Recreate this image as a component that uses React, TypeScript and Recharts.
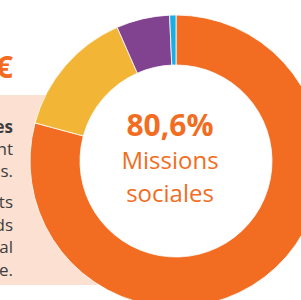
import { PieChart, Pie, Cell } from "recharts";

const categories = ["Missions sociales", "Frais de recherche de fonds", "Frais de fonctionnement", "Autres"];
const shares = [79.2, 14.2, 5.9, 0.7];
const colors = ["#F26D21", "#F2B535", "#81428F", "#1BAEE2"];
const introLines = ["es", "nt", "cs."];
const bodyLines = ["ts", "ds", "al", "e."];

const data = categories.map((name, i) => ({ name, value: shares[i] }));

const font = "'Open Sans', 'Noto Sans', sans-serif";

const lineStyle = (top: number, bold = false): React.CSSProperties => ({
  position: "absolute",
  left: -200,
  width: 213,
  top,
  textAlign: "right",
  fontSize: 17,
  lineHeight: "22px",
  fontWeight: bold ? 700 : 400,
  color: "#3d3d3d",
});

export default function App() {
  return (
    <div
      style={{
        position: "absolute",
        left: 0,
        top: 0,
        width: 301,
        height: 300,
        overflow: "hidden",
        background: "#fff",
        fontFamily: font,
      }}
    >
      <div style={{ position: "absolute", left: 0, top: 95, width: 110, height: 190, background: "#FCE1D3" }} />
      <div
        style={{
          position: "absolute",
          left: -200,
          width: 213,
          top: 48,
          textAlign: "right",
          fontSize: 31,
          lineHeight: "36px",
          fontWeight: 700,
          color: "#F26D21",
        }}
      >
        €
      </div>
      {introLines.map((t, i) => (
        <div key={t} style={lineStyle(116 + i * 22, i === 0)}>
          {t}
        </div>
      ))}
      {bodyLines.map((t, i) => (
        <div key={t} style={lineStyle(191 + i * 22.7)}>
          {t}
        </div>
      ))}
      <div
        style={{
          position: "absolute",
          left: 75,
          top: 60,
          width: 192,
          height: 192,
          borderRadius: "50%",
          background: "#fff",
        }}
      />
      <div style={{ position: "absolute", left: 0, top: 0 }}>
        <PieChart width={301} height={300}>
          <Pie
            data={data}
            dataKey="value"
            cx={171}
            cy={156}
            innerRadius={96}
            outerRadius={146}
            startAngle={90}
            endAngle={-270}
            stroke="#fff"
            strokeWidth={0.8}
            isAnimationActive={false}
          >
            {data.map((d, i) => (
              <Cell key={d.name} fill={colors[i]} />
            ))}
          </Pie>
        </PieChart>
      </div>
      <div
        style={{
          position: "absolute",
          left: 70,
          width: 200,
          top: 106,
          textAlign: "center",
          color: "#F26D21",
        }}
      >
        <div style={{ fontSize: 30, fontWeight: 700, lineHeight: "37px" }}>80,6%</div>
        <div style={{ fontSize: 24, lineHeight: "33px" }}>Missions</div>
        <div style={{ fontSize: 24, lineHeight: "33px" }}>sociales</div>
      </div>
    </div>
  );
}
